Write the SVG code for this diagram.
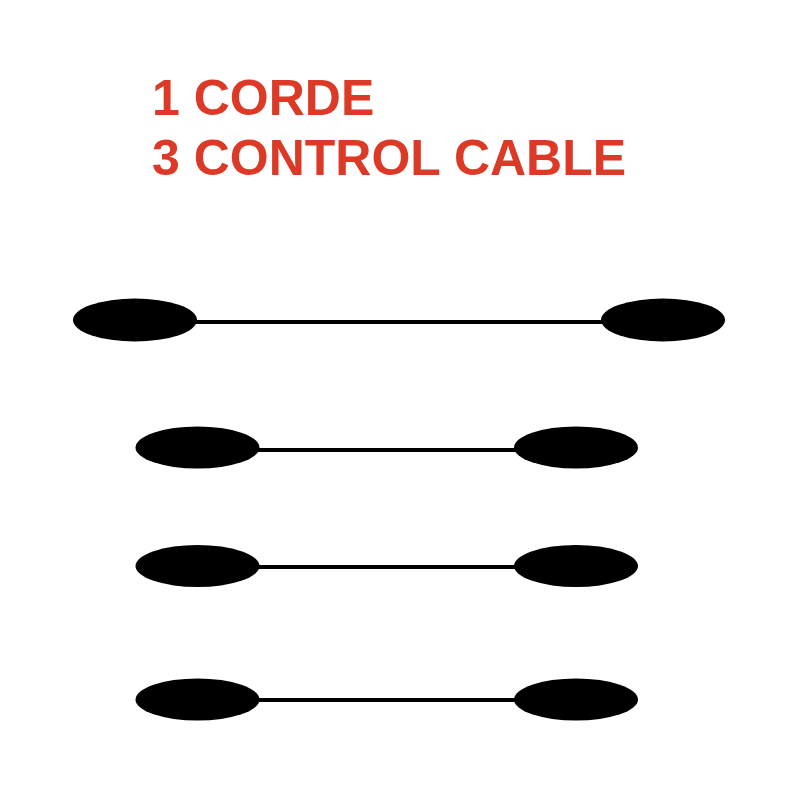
<svg xmlns="http://www.w3.org/2000/svg" width="800" height="800" viewBox="0 0 800 800">
<style>
.t{font-family:"Liberation Sans",Arial,sans-serif;font-weight:bold;font-size:50px;fill:#DC3A26}
.n{fill:#000}
.c{stroke:#000;stroke-width:4;fill:none}
</style>
<rect width="800" height="800" fill="#fff"/>
<g id="title">
<text class="t" x="152" y="115">1 CORDE</text>
<text class="t" x="152" y="175">3 CONTROL CABLE</text>
</g>
<g id="connectors">
<line class="c" x1="190" y1="322" x2="610" y2="322"/>
<line class="c" x1="250" y1="450" x2="520" y2="450"/>
<line class="c" x1="250" y1="567" x2="520" y2="567"/>
<line class="c" x1="250" y1="700" x2="520" y2="700"/>
</g>
<g id="n1l"><ellipse class="n" cx="135" cy="320" rx="62" ry="21.5"/></g>
<g id="n1r"><ellipse class="n" cx="663" cy="320" rx="62" ry="21.5"/></g>
<g id="n2l"><ellipse class="n" cx="197.5" cy="447.5" rx="62" ry="21"/></g>
<g id="n2r"><ellipse class="n" cx="576" cy="447.5" rx="62" ry="21"/></g>
<g id="n3l"><ellipse class="n" cx="197.5" cy="566" rx="62" ry="21"/></g>
<g id="n3r"><ellipse class="n" cx="576" cy="566" rx="62" ry="21"/></g>
<g id="n4l"><ellipse class="n" cx="197.5" cy="699.5" rx="62" ry="21"/></g>
<g id="n4r"><ellipse class="n" cx="576" cy="699.5" rx="62" ry="21"/></g>
</svg>
